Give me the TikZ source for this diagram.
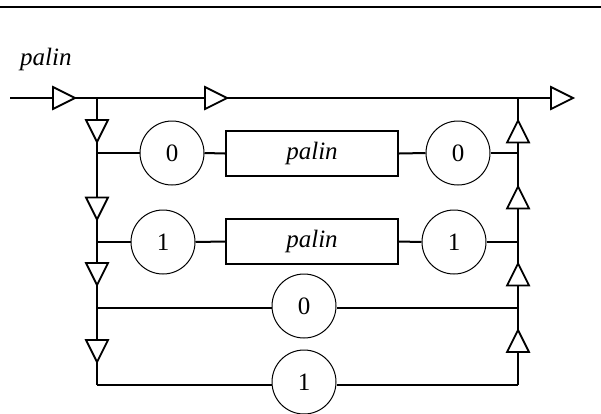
\documentclass[tikz,border=0pt]{standalone}
\usepackage{fontspec}
\setmainfont{Liberation Serif}
\begin{document}
\begin{tikzpicture}[x=1pt,y=-1pt,
  wire/.style={line width=2pt},
  term/.style={circle,draw,line width=1pt,minimum size=64pt,inner sep=0pt,fill=white,font=\fontsize{25}{30}\selectfont},
  nonterm/.style={rectangle,draw,line width=2pt,minimum width=172pt,minimum height=45pt,inner sep=0pt,fill=white,font=\fontsize{25}{30}\selectfont\itshape},
  tristyle/.style={line width=1.8pt,fill=white,line join=miter},
  triR/.pic={\draw[tristyle] (-11,-11) -- (11,0) -- (-11,11) -- cycle;},
  triD/.pic={\draw[tristyle] (-11,-11) -- (11,-11) -- (0,11) -- cycle;},
  triU/.pic={\draw[tristyle] (-11,11) -- (11,11) -- (0,-11) -- cycle;}
]
\useasboundingbox (0,0) rectangle (601,413);
\draw[line width=2.5pt] (0,7) -- (601,7);
\node[anchor=base west,font=\fontsize{25}{30}\selectfont\itshape,inner sep=0pt] (title) at (20,65) {palin};

% junction coordinates
\coordinate (start) at (10,98);
\coordinate (L0) at (97,98);
\coordinate (R0) at (518,98);
\coordinate (end) at (551,98);
\coordinate (L1) at (97,153);
\coordinate (R1) at (518,153);
\coordinate (L2) at (97,242);
\coordinate (R2) at (518,242);
\coordinate (L3) at (97,308);
\coordinate (R3) at (518,308);
\coordinate (L4) at (97,385);
\coordinate (R4) at (518,385);

% nodes
\node[term] (c1a) at (172,153) {0};
\node[nonterm] (b1) at (312,153.5) {palin};
\node[term] (c1b) at (458,153) {0};
\node[term] (c2a) at (163,242) {1};
\node[nonterm] (b2) at (312,241.5) {palin};
\node[term] (c2b) at (454,242) {1};
\node[term] (c3) at (304,306) {0};
\node[term] (c4) at (304,382) {1};

% connectors
\draw[wire] (start) -- (L0) -- (R0) -- (end);
\draw[wire] (L0) -- (L4);
\draw[wire] (R4) -- (R0);
\draw[wire] (L1) -- (c1a.west);
\draw[wire] (c1a.east) -- (b1.west);
\draw[wire] (b1.east) -- (c1b.west);
\draw[wire] (c1b.east) -- (R1);
\draw[wire] (L2) -- (c2a.west);
\draw[wire] (c2a.east) -- (b2.west);
\draw[wire] (b2.east) -- (c2b.west);
\draw[wire] (c2b.east) -- (R2);
\draw[wire] (L3) -- (L3 -| c3.west);
\draw[wire] (R3 -| c3.east) -- (R3);
\draw[wire] (L4) -- (L4 -| c4.west);
\draw[wire] (R4 -| c4.east) -- (R4);

% arrowheads
\pic at (64,98) {triR};
\pic at (216,98) {triR};
\pic at (562,98) {triR};
\pic at (97,131) {triD};
\pic at (97,208.5) {triD};
\pic at (97,274) {triD};
\pic at (97,351) {triD};
\pic at (518,131.5) {triU};
\pic at (518,197.5) {triU};
\pic at (518,274.5) {triU};
\pic at (518,341) {triU};
\end{tikzpicture}
\end{document}
